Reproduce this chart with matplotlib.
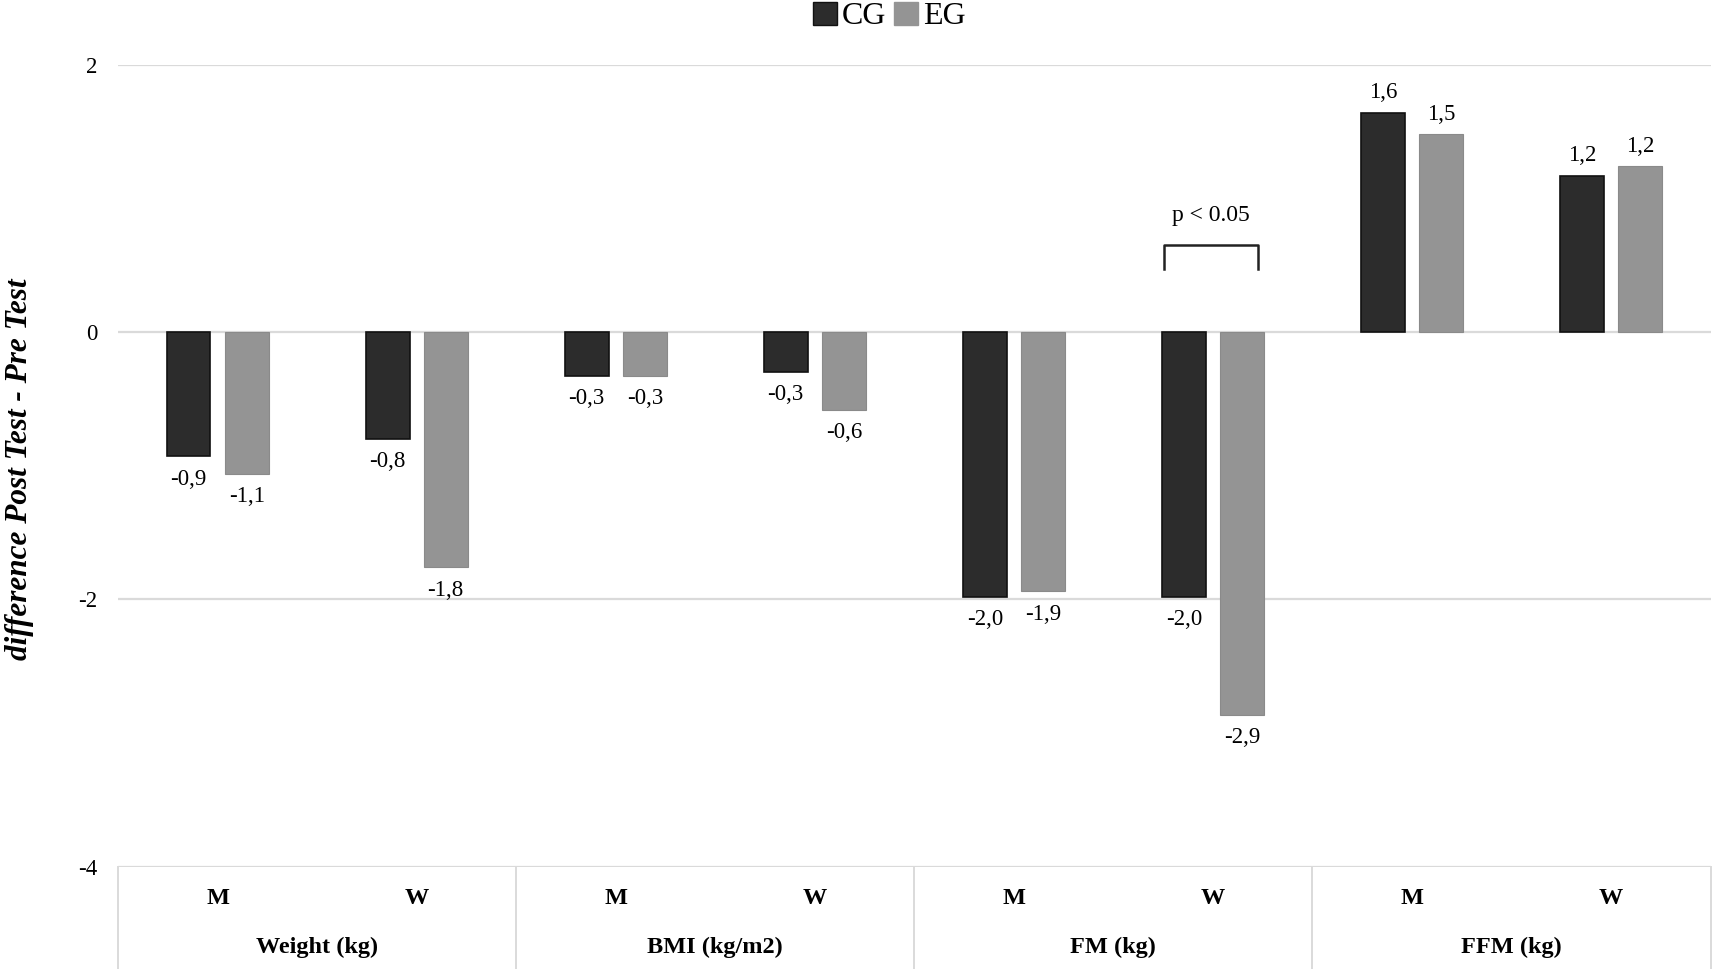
import numpy as np
import matplotlib
matplotlib.use("Agg")
import matplotlib.pyplot as plt
from matplotlib.patches import Patch
import matplotlib.transforms as mtransforms

plt.rcParams["font.family"] = ["Liberation Serif", "DejaVu Serif"]

# data
sexes = ["M", "W", "M", "W", "M", "W", "M", "W"]
groups = ["Weight (kg)", "BMI (kg/m2)", "FM (kg)", "FFM (kg)"]
cg = [-0.93, -0.80, -0.33, -0.30, -1.98, -1.98, 1.64, 1.17]
eg = [-1.06, -1.76, -0.33, -0.58, -1.94, -2.86, 1.48, 1.24]
series = ["CG", "EG"]
y_ticks = [-4, -2, 0, 2]

CG_COL = "#2c2c2c"
EG_COL = "#949494"
GRID = "#dadada"


def fmt(v):
    return f"{v:.1f}".replace(".", ",")


fig = plt.figure(figsize=(17.14, 9.69), dpi=100)
ax = fig.add_axes([0.0689, 0.1053, 0.9291, 0.8281])

x = np.arange(len(sexes))
w = 0.22
off = 0.146
ax.bar(x - off, cg, w, color=CG_COL, edgecolor="#111111", lw=1.2, zorder=3)
ax.bar(x + off, eg, w, color=EG_COL, edgecolor="#8a8a8a", lw=0.8, zorder=3)

for xi, v in zip(x - off, cg):
    ax.text(xi, v + (0.15 if v > 0 else -0.17), fmt(v), ha="center",
            va="center", fontsize=16.5)
for xi, v in zip(x + off, eg):
    ax.text(xi, v + (0.15 if v > 0 else -0.17), fmt(v), ha="center",
            va="center", fontsize=16.5)

ax.set_xlim(-0.5, len(sexes) - 0.5)
ax.set_ylim(-4, 2)
ax.set_yticks(y_ticks)
ax.set_yticklabels([str(t) for t in y_ticks], fontsize=16.5)
ax.set_xticks([])
ax.tick_params(axis="y", length=0, pad=15)
for sp in ax.spines.values():
    sp.set_visible(False)
for t in y_ticks:
    ax.axhline(t, color=GRID, lw=1.6, zorder=1)

# category table below the plot
trans = mtransforms.blended_transform_factory(ax.transData, fig.transFigure)
bottom_y = 1 - 867 / 969
for b in [-0.5, 1.5, 3.5, 5.5, 7.5]:
    ax.plot([b, b], [bottom_y, 0], color=GRID, lw=1.4, transform=trans,
            clip_on=False)
for xi, s in zip(x, sexes):
    ax.text(xi, 1 - 899 / 969, s, transform=trans, ha="center", va="center",
            fontsize=17.5, fontweight="bold")
for gi, g in enumerate(groups):
    ax.text(2 * gi + 0.5, 1 - 947 / 969, g, transform=trans, ha="center",
            va="center", fontsize=17.5, fontweight="bold")

# significance bracket on FM W
bx0, bx1 = 5 - 0.245, 5 + 0.225
ax.plot([bx0, bx0, bx1, bx1], [0.47, 0.65, 0.65, 0.47], color="#222222",
        lw=1.8, zorder=4, solid_joinstyle="round")
ax.text(4.99, 0.87, "p < 0.05", ha="center", va="center", fontsize=17)

fig.text(20 / 1714, 1 - 469 / 969, "difference Post Test - Pre Test",
         rotation=90, ha="center", va="center", fontsize=22.5,
         fontstyle="italic", fontweight="bold")

handles = [Patch(facecolor=CG_COL, edgecolor="#111111"),
           Patch(facecolor=EG_COL, edgecolor=EG_COL)]
fig.legend(handles, series, loc="center", bbox_to_anchor=(0.519, 0.983),
           ncol=2, frameon=False, fontsize=23, handlelength=0.75,
           handleheight=0.75, handletextpad=0.15, columnspacing=0.25)

fig.savefig("out.png", dpi=100)
